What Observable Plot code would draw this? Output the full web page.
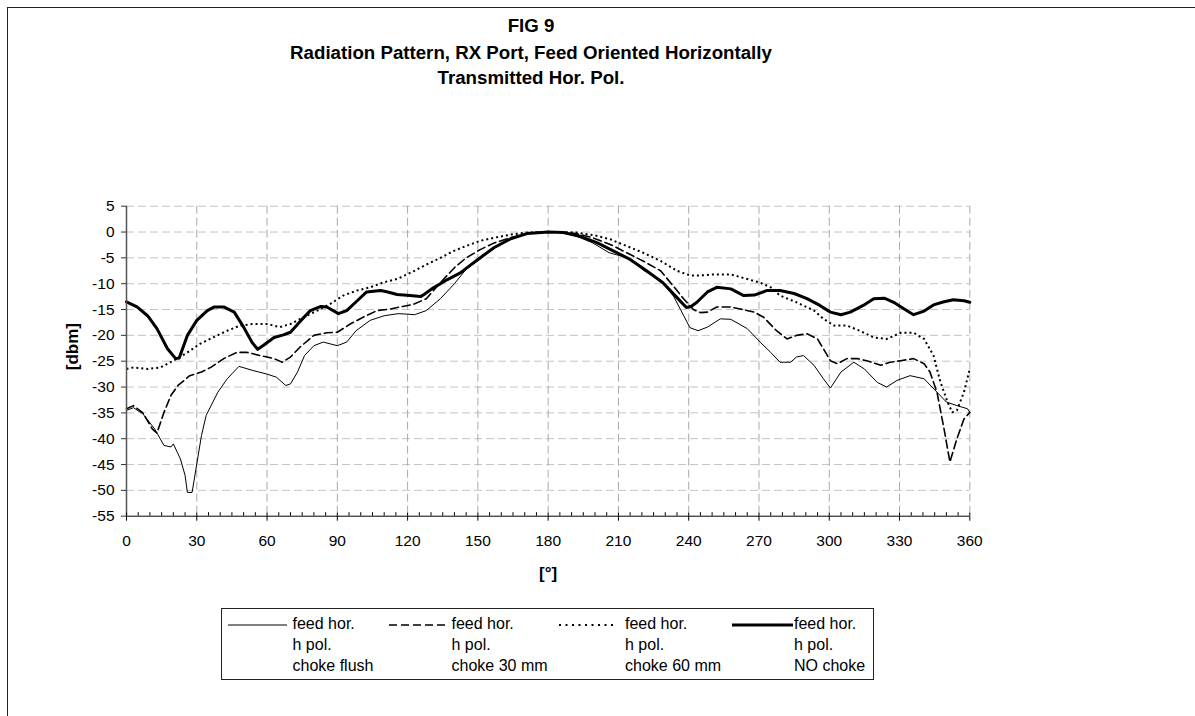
<!DOCTYPE html>
<html>
<head>
<meta charset="utf-8">
<script src="https://cdn.jsdelivr.net/npm/d3@7"></script>
<script src="https://cdn.jsdelivr.net/npm/@observablehq/plot@0.6"></script>
<style>
  html, body { margin: 0; padding: 0; background: #fff; overflow: hidden; }
  body { font-family: "Liberation Sans", Arial, sans-serif; color: #000; }
  #wrap { position: relative; width: 1195px; height: 716px; overflow: hidden; background: #fff; }
  #frame { position: absolute; left: 7px; top: 7px; width: 1400px; height: 900px; border-top: 1.5px solid #222; border-left: 1.5px solid #222; pointer-events: none; }
  #title { position: relative; height: 100px; }
  .tl { position: absolute; left: 0; width: 1062px; text-align: center; font-weight: bold; font-size: 18.7px; line-height: 18.7px; white-space: nowrap; }
  #chart { position: relative; height: 500px; }
  #legendArea { position: relative; height: 116px; }
  #legend { position: absolute; left: 221px; top: 8px; width: 653px; height: 72px; border: 1px solid #222; box-sizing: border-box; }
  .ltxt { position: absolute; font-size: 16px; line-height: 16px; white-space: nowrap; }
  .lsw { position: absolute; }
</style>
</head>
<body>
<div id="wrap">
  <div id="title"></div>
  <div id="chart"></div>
  <div id="legendArea"><div id="legend"></div></div>
  <div id="frame"></div>
</div>
<script>
// ---- Titles and labels ----
const titleLines = ["FIG 9", "Radiation Pattern, RX Port, Feed Oriented Horizontally", "Transmitted Hor. Pol."];
const yLabel = "[dbm]";
const xLabel = "[°]";
const seriesNames = ["choke flush", "choke 30 mm", "choke 60 mm", "NO choke"];
const legendLine1 = "feed hor.";
const legendLine2 = "h pol.";

// ---- Ticks ----
const xTicks = [0, 30, 60, 90, 120, 150, 180, 210, 240, 270, 300, 330, 360];
const yTicks = [5, 0, -5, -10, -15, -20, -25, -30, -35, -40, -45, -50, -55];

// ---- Series: feed hor., h pol., choke flush (thin solid) ----
const flushDeg = [0,3,7,12,16,19,20,23,25,26,28,32,34,39,43,48,54,60,64,68,70,73,76,80,84,90,94,98,104,110,116,120,123,128,134,140,145,150,157,164,171,180,185,192,199,206,214,221,228,233.5,236.5,238,240.5,244,248,253.5,258,265,270.5,275,279,283.5,286,289,293.5,297.5,300.5,305,310.5,315,320.5,324.5,329,334.5,340.5,346,350,354.5,359,360];
const flushDb = [-34.5,-34,-35.2,-38.1,-41.3,-41.6,-41,-43.9,-47.1,-50.4,-50.4,-39.4,-35.5,-31,-28.4,-26,-26.8,-27.5,-28.1,-29.7,-29.4,-27.1,-23.9,-22,-21.3,-22,-21.3,-19.1,-17.1,-16.2,-15.8,-15.9,-16,-15.2,-12.9,-10,-7.2,-5.6,-3,-1.4,-0.3,0,0,-0.8,-2.1,-4,-5,-7.5,-9.4,-12.4,-15,-16.3,-18.5,-19.1,-18.4,-16.8,-16.9,-18.7,-21.3,-23.3,-25.2,-25.2,-24.2,-23.9,-25.8,-28.4,-30.2,-27.1,-25.2,-26.5,-29.1,-30,-28.7,-27.8,-28.4,-31,-32.9,-33.6,-34.2,-34.9];

// ---- Series: choke 30 mm (dashed) ----
const c30Deg = [0,3,7,11,13,16,19,22,27,32,36,41.5,47,51.5,57,63,66.5,70,74,80,85.5,90,95.5,101,107,112.5,118,122.5,128,134,140,145,151,157,164,171,178,185,192,199,206.5,213.5,220.5,228,233.5,238,242,245,248,252,258,262,268,272,277.5,282,286,290.5,295,297.5,300.5,303.5,307.5,312,316,322,326,330.5,336,340.5,343,346,349,351.5,354.5,357.5,360];
const c30Db = [-34.2,-33.6,-35,-38.1,-38.9,-34.9,-31.6,-29.7,-27.8,-27.1,-26.2,-24.5,-23.3,-23.3,-23.9,-24.5,-25.2,-24.2,-22.3,-20,-19.5,-19.4,-17.8,-16.5,-15.2,-14.9,-14.4,-14,-12.9,-9.8,-6.9,-5,-3.4,-2.1,-1.1,-0.3,0,0,-0.3,-1.1,-2.4,-4,-5.6,-7.5,-10.5,-13,-15,-15.6,-15.5,-14.5,-14.5,-14.9,-15.5,-16.5,-19.1,-20.7,-20,-19.7,-20.7,-22.6,-24.9,-25.5,-24.5,-24.5,-24.9,-25.8,-25.2,-24.9,-24.5,-25.5,-27.1,-31,-38.1,-44.5,-40,-36.2,-34.9];

// ---- Series: choke 60 mm (dotted) ----
const c60Deg = [0,3,9,14.5,20,26,31.5,37,43,48.5,54,60,65.5,70,75.5,81.5,87,92.5,98.5,104,110,115.5,122.5,128,134,139.5,145,151,157,164,171,178,185,192,199.5,206.5,213.5,220.5,228,235,240.5,245,250.5,258,265,270.5,275,279,286,293.5,297.5,302,307.5,313,319,324.5,330.5,336,340.5,344.5,347.5,350.5,352.5,354.5,357.5,360];
const c60Db = [-26.5,-26.2,-26.5,-26.2,-24.9,-23.3,-21.6,-20.4,-19.1,-18.1,-17.8,-17.8,-18.4,-17.8,-16.5,-15.2,-13.9,-12.3,-11.3,-10.7,-9.7,-9.1,-7.6,-6.3,-5,-3.7,-2.7,-1.7,-1.1,-0.5,-0.1,0,0,-0.1,-0.6,-1.4,-2.7,-4,-5.6,-7.5,-8.4,-8.4,-8.2,-8.2,-9.1,-9.8,-10.7,-12.3,-13.6,-15.2,-16.8,-18.1,-18.1,-19.1,-20.4,-20.7,-19.5,-19.5,-20.7,-23.9,-29.1,-32.9,-34.9,-34.5,-31,-26.5];

// ---- Series: NO choke (thick solid) ----
const noDeg = [0,4.5,9,13,17.5,21,22.5,26,30,34.5,37.5,41.5,46,50,53.5,56,58.5,63,67,70,74.5,78.5,83,85.5,90.5,94,98.5,102.5,108.5,111.5,115.5,121,125.5,127,131,137,142.5,150,157,164,171,180,186.5,193.5,201,208,215,222,229,235,239,241,243.5,248,252,258,263.5,268,273.5,279,285,290.5,296,300.5,305,309,314.5,319,323.5,327.5,332,336,340.5,344.5,349,353,357.5,360];
const noDb = [-13.5,-14.5,-16.2,-18.7,-22.6,-24.5,-24.4,-20,-17.1,-15.2,-14.5,-14.5,-15.5,-18.4,-21.3,-22.7,-21.9,-20.4,-19.9,-19.4,-17.1,-15.2,-14.4,-14.5,-15.8,-15.2,-13.3,-11.6,-11.3,-11.6,-12.1,-12.3,-12.5,-12.1,-10.8,-9.2,-7.9,-5.3,-3,-1.3,-0.3,0,-0.1,-0.8,-2.1,-3.7,-5.3,-7.5,-9.8,-12.7,-14.6,-14.4,-13.6,-11.6,-10.7,-11,-12.3,-12.2,-11.3,-11.3,-11.9,-12.9,-14.2,-15.5,-16,-15.5,-14.2,-12.9,-12.8,-13.6,-14.9,-16,-15.3,-14.1,-13.5,-13.1,-13.3,-13.6];

// ---- Styles ----
const styles = [
  {strokeWidth: 1, dash: null},
  {strokeWidth: 1.6, dash: "8,4"},
  {strokeWidth: 2, dash: "2,3"},
  {strokeWidth: 3, dash: null}
];

const toRows = (degs, dbs, name) => degs.map((d, i) => ({deg: d, db: dbs[i], name}));
const seriesData = [
  toRows(flushDeg, flushDb, seriesNames[0]),
  toRows(c30Deg, c30Db, seriesNames[1]),
  toRows(c60Deg, c60Db, seriesNames[2]),
  toRows(noDeg, noDb, seriesNames[3])
];

// ---- Title ----
const titleEl = document.getElementById("title");
const titleBaselines = [33, 59.5, 85];
titleLines.forEach((t, i) => {
  const d = document.createElement("div");
  d.className = "tl";
  d.textContent = t;
  d.style.top = (titleBaselines[i] - 15.8) + "px";
  titleEl.appendChild(d);
});

// ---- Chart ----
const minorTicks = d3.range(0, 361, 5).filter(v => v % 30 !== 0);
const plainFmt = d => String(d);
const lineMarks = seriesData.map((rows, i) => Plot.line(rows, {
  x: "deg", y: "db", stroke: "#000",
  strokeWidth: styles[i].strokeWidth,
  strokeDasharray: styles[i].dash,
  strokeLinejoin: "round",
  strokeLinecap: styles[i].dash === "2,3" ? "butt" : "round"
}));

const plot = Plot.plot({
  width: 1195,
  height: 500,
  marginLeft: 126,
  marginRight: 225.7,
  marginTop: 105.7,
  marginBottom: 84.3,
  style: {fontFamily: "'Liberation Sans', Arial, sans-serif", fontSize: "15.5px", background: "transparent", color: "#000", overflow: "visible"},
  x: {domain: [0, 360]},
  y: {domain: [-55, 5]},
  marks: [
    Plot.ruleY(yTicks.filter(v => v > -55), {stroke: "#c4c4c4", strokeDasharray: "8,4"}),
    Plot.ruleX(xTicks.filter(v => v > 0), {stroke: "#a8a8a8", strokeDasharray: "8,4"}),
    ...lineMarks,
    Plot.ruleX([0], {stroke: "#555", strokeWidth: 1.5}),
    Plot.ruleY([-55], {stroke: "#000", strokeWidth: 1}),
    Plot.axisY({ticks: yTicks, tickSize: 5, tickPadding: 7, tickFormat: plainFmt, label: null, stroke: "#333", fill: "#000", fontSize: 15.5}),
    Plot.axisX({ticks: xTicks, tickSize: 5, tickPadding: 14, tickFormat: plainFmt, label: null, stroke: "#000", fill: "#000", fontSize: 15.5}),
    Plot.axisX({ticks: xTicks, tickSize: -3, tickFormat: () => "", label: null, stroke: "#000"}),
    Plot.axisX({ticks: minorTicks, tickSize: -3.5, tickFormat: () => "", label: null, stroke: "#000"}),
    Plot.text([yLabel], {text: d => d, frameAnchor: "left", dx: -54, dy: 9, rotate: -90, fontWeight: "bold", fontSize: 17, fill: "#000"}),
    Plot.text([xLabel], {text: d => d, frameAnchor: "bottom", dy: 62.6, fontWeight: "bold", fontSize: 17, fill: "#000"})
  ]
});
document.getElementById("chart").appendChild(plot);

// ---- Legend ----
const legend = document.getElementById("legend");
const legendSwatchX = [6, 167, 337, 510];   // relative to legend box left
const legendSwatchW = [59, 60, 54, 61];
const legendTextX = [70.5, 229.5, 403, 572];
const rowBaselines = [20.3, 41.3, 62.5];
seriesNames.forEach((name, i) => {
  const svgNS = "http://www.w3.org/2000/svg";
  const sw = document.createElementNS(svgNS, "svg");
  sw.setAttribute("class", "lsw");
  sw.setAttribute("width", legendSwatchW[i]);
  sw.setAttribute("height", 8);
  sw.style.left = legendSwatchX[i] + "px";
  sw.style.top = (16.3 - 4) + "px";
  const ln = document.createElementNS(svgNS, "line");
  ln.setAttribute("x1", 0); ln.setAttribute("x2", legendSwatchW[i]);
  ln.setAttribute("y1", 4); ln.setAttribute("y2", 4);
  ln.setAttribute("stroke", "#000");
  ln.setAttribute("stroke-width", styles[i].strokeWidth);
  if (styles[i].dash) ln.setAttribute("stroke-dasharray", i === 2 ? "2,4.5" : styles[i].dash);
  sw.appendChild(ln);
  legend.appendChild(sw);
  [legendLine1, legendLine2, name].forEach((t, r) => {
    const d = document.createElement("div");
    d.className = "ltxt";
    d.textContent = t;
    d.style.left = legendTextX[i] + "px";
    d.style.top = (rowBaselines[r] - 13.5) + "px";
    legend.appendChild(d);
  });
});
</script>
</body>
</html>
